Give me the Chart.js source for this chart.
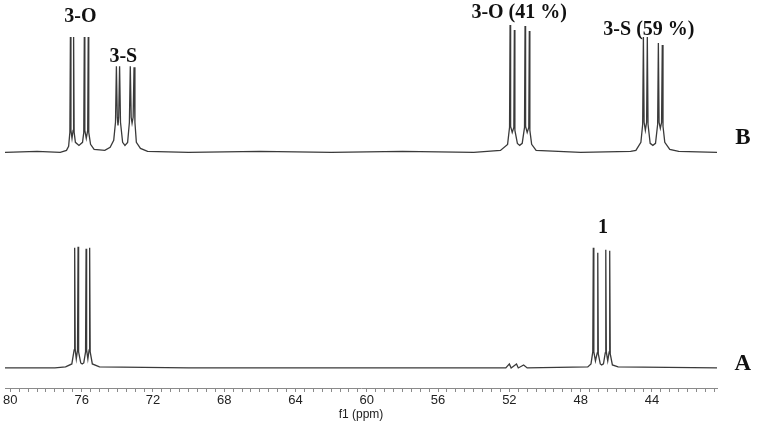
<!DOCTYPE html>
<html>
<head>
<meta charset="utf-8">
<title>13C NMR spectra A and B</title>
<script src="https://cdn.jsdelivr.net/npm/chart.js@4.4.1/dist/chart.umd.min.js"></script>
<style>
  html, body { margin: 0; padding: 0; background: #fff; }
  #wrap { width: 762px; height: 424px; }
</style>
</head>
<body>
<div id="wrap"><canvas id="nmr"></canvas></div>
<script>
(function () {

  'use strict';

  // Spectrum B (top trace): chemical shift (ppm) and intensity above baseline.
  var specB_ppm = [
    80.3, 78.5, 77.2,
    76.85, 76.73, 76.66, 76.63, 76.6, 76.54, 76.48, 76.45, 76.42, 76.35, 76.15,
    75.95, 75.88, 75.85, 75.82, 75.74, 75.66, 75.63, 75.6, 75.5, 75.3,
    74.7, 74.4, 74.2, 74.1, 74.05, 74.0, 73.96, 73.92, 73.87, 73.82, 73.7, 73.57,
    73.42, 73.32, 73.27, 73.22, 73.17, 73.11, 73.06, 73.01, 72.93, 72.7, 72.3,
    70, 66, 62, 58, 54,
    52.5, 52.1, 51.99, 51.96, 51.93, 51.84, 51.75, 51.72, 51.69, 51.55, 51.42,
    51.28, 51.15, 51.12, 51.09, 51.0, 50.91, 50.88, 50.85, 50.75, 50.5,
    48, 45.2,
    44.9, 44.62, 44.52, 44.48, 44.44, 44.37, 44.3, 44.26, 44.22, 44.1, 43.95,
    43.8, 43.68, 43.64, 43.6, 43.53, 43.46, 43.42, 43.38, 43.28, 43.0, 42.5, 40.35
  ];
  var specB_int = [
    0, 1, 0,
    2, 6, 20, 115, 22, 14, 22, 115, 20, 10, 7,
    10, 20, 115, 22, 14, 22, 115, 20, 8, 3,
    2, 5, 12, 30, 86, 35, 27, 35, 86, 30, 10, 7,
    10, 30, 86, 35, 29, 35, 85, 30, 10, 4, 1,
    0, 1, 0, 1, 0,
    2, 8, 25, 127, 26, 20, 25, 122, 22, 9, 7,
    9, 25, 126, 26, 20, 25, 121, 22, 8, 2,
    0, 1,
    2, 10, 28, 115, 30, 22, 30, 115, 28, 9, 7,
    9, 28, 109, 30, 24, 30, 107, 26, 10, 3, 1, 0
  ];

  // Spectrum A (bottom trace).
  var specA_ppm = [
    80.3, 77.5,
    76.9, 76.55, 76.42, 76.39, 76.36, 76.3, 76.23, 76.2, 76.17, 76.05, 75.97,
    75.88, 75.78, 75.75, 75.72, 75.65, 75.58, 75.55, 75.52, 75.4, 75.0,
    70, 60, 52.2, 52.0, 51.9, 51.6, 51.5, 51.2, 51.0,
    47.6, 47.42, 47.32, 47.29, 47.26, 47.17, 47.07, 47.04, 47.01, 46.9, 46.82,
    46.72, 46.62, 46.59, 46.56, 46.48, 46.4, 46.37, 46.34, 46.22, 45.9, 40.35
  ];
  var specA_int = [
    0, 0,
    1, 4, 18, 120, 18, 9, 18, 121, 16, 5, 4,
    5, 16, 119, 18, 9, 18, 120, 16, 4, 1,
    0, 0, 0, 4, 0, 4, 0, 3, 0,
    1, 4, 16, 120, 16, 7, 15, 115, 14, 4, 3,
    4, 15, 118, 16, 7, 16, 117, 14, 3, 1, 0
  ];

  // Axis: f1 in ppm, reversed, labels every 4 ppm.
  var X_MIN = 40.35;
  var X_MAX = 80.3;
  var tickLabels = [80, 76, 72, 68, 64, 60, 56, 52, 48, 44];

  // Peak labels: text, ppm, level (same units as intensity, A baseline = 0).
  var labelTexts = ['3-O', '3-S', '3-O (41 %)', '3-S (59 %)', '1', 'B', 'A'];
  var labelPpm = [76.07, 73.66, 51.45, 44.17, 46.74, 38.9, 38.9];
  var labelLevel = [350, 310, 354, 337, 140, 229, 4];

  // Vertical offset of trace B above trace A.
  var B_OFFSET = 215;
  var LINE_COLOR = '#3a3a3a';
  var AXIS_COLOR = '#8a8a8a';

  function toPoints(xs, ys, offset) {
    return xs.map(function (x, i) {
      return { x: x, y: ys[i] + offset };
    });
  }

  var labelPlugin = {
    id: 'peakLabels',
    afterDatasetsDraw: function (chart) {
      var ctx = chart.ctx;
      var xs = chart.scales.x;
      var ys = chart.scales.y;
      ctx.save();
      ctx.fillStyle = '#111';
      ctx.textAlign = 'center';
      ctx.textBaseline = 'middle';
      labelTexts.forEach(function (t, i) {
        var big = (t === 'A' || t === 'B');
        ctx.font = 'bold ' + (big ? 23 : 20) + 'px "Liberation Serif", "Times New Roman", serif';
        ctx.fillText(t, xs.getPixelForValue(labelPpm[i]), ys.getPixelForValue(labelLevel[i]));
      });
      ctx.restore();
    }
  };

  new Chart(document.getElementById('nmr').getContext('2d'), {
    type: 'line',
    data: {
      datasets: [{
        label: 'B',
        data: toPoints(specB_ppm, specB_int, B_OFFSET),
        borderColor: LINE_COLOR,
        borderWidth: 1.3,
        pointRadius: 0,
        tension: 0
      }, {
        label: 'A',
        data: toPoints(specA_ppm, specA_int, 0),
        borderColor: LINE_COLOR,
        borderWidth: 1.3,
        pointRadius: 0,
        tension: 0
      }]
    },
    options: {
      responsive: true,
      maintainAspectRatio: false,
      animation: false,
      layout: { padding: { left: 5, right: 45, top: 0, bottom: 2 } },
      plugins: {
        legend: { display: false },
        tooltip: { enabled: false }
      },
      scales: {
        x: {
          type: 'linear',
          reverse: true,
          min: X_MIN,
          max: X_MAX,
          afterBuildTicks: function (axis) {
            var ticks = [];
            for (var v = 80; v >= 40.5; v -= 0.5) {
              ticks.push({ value: v });
            }
            axis.ticks = ticks;
          },
          ticks: {
            autoSkip: false,
            maxRotation: 0,
            padding: 1,
            color: '#222',
            font: { family: '"Liberation Sans", Arial, sans-serif', size: 13 },
            callback: function (value) {
              return tickLabels.indexOf(value) >= 0 ? String(value) : '';
            }
          },
          grid: {
            display: true,
            drawOnChartArea: false,
            drawTicks: true,
            tickLength: 4,
            color: AXIS_COLOR
          },
          border: { display: true, color: AXIS_COLOR },
          title: {
            display: true,
            text: 'f1 (ppm)',
            color: '#222',
            padding: { top: -2, bottom: 0 },
            font: { family: '"Liberation Sans", Arial, sans-serif', size: 12 }
          }
        },
        y: {
          display: false,
          min: -20,
          max: 367
        }
      }
    },
    plugins: [labelPlugin]
  });

})();
</script>
</body>
</html>
